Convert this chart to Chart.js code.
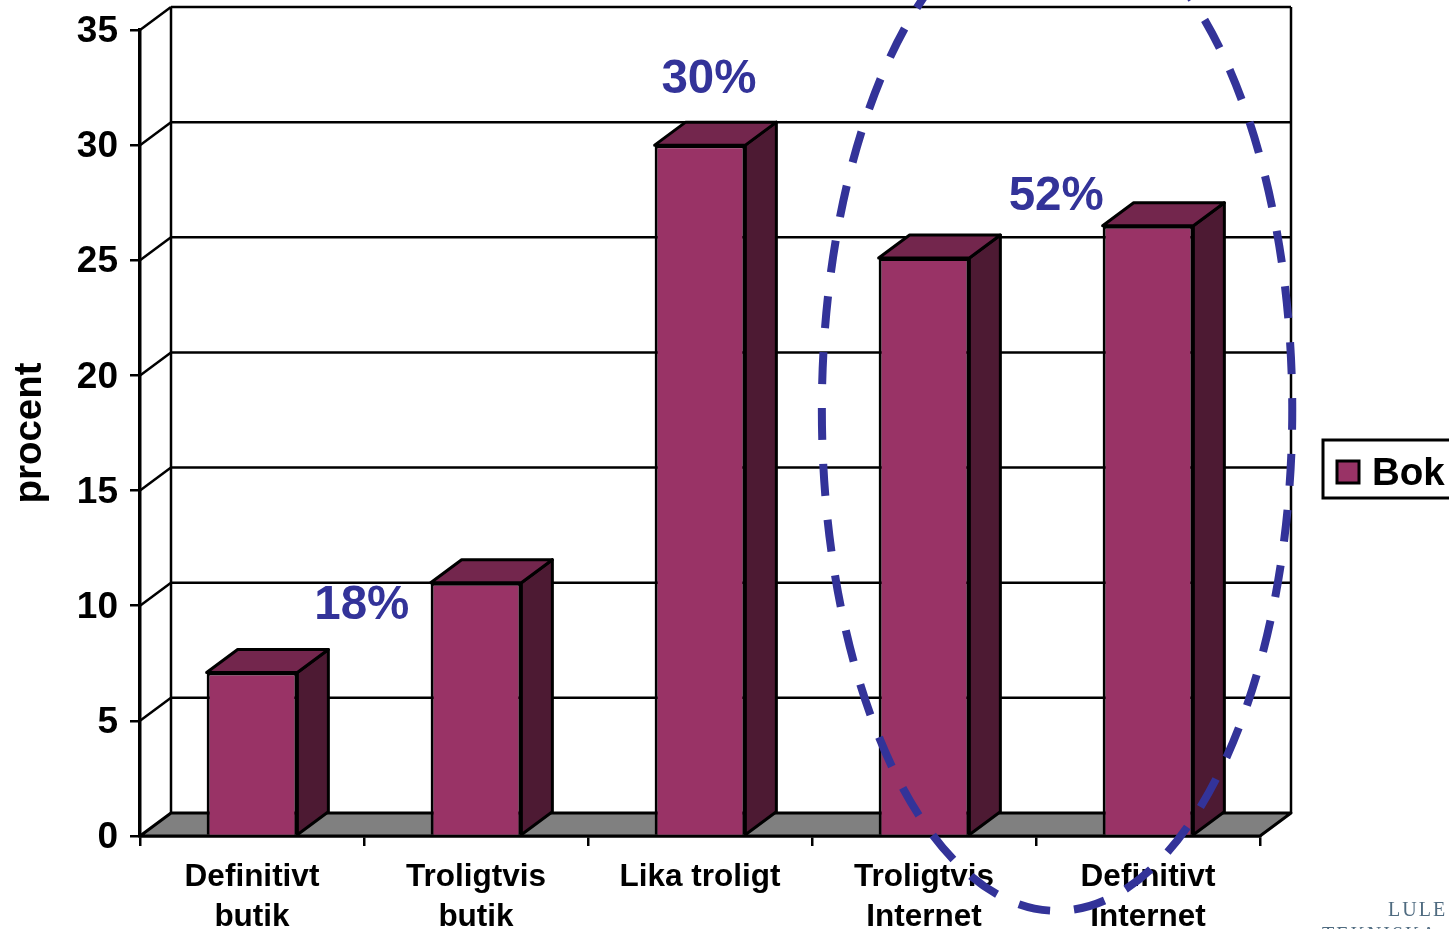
<!DOCTYPE html>
<html>
<head>
<meta charset="utf-8">
<title>Bok</title>
<script src="https://cdn.jsdelivr.net/npm/chart.js@4"></script>
<style>
    html, body { margin: 0; padding: 0; background: #fff; overflow: hidden; }
    canvas { display: block; }
</style>
</head>
<body>
<canvas id="grafica" width="1449" height="929"></canvas>
<script>
const categorias = [['Definitivt', 'butik'], ['Troligtvis', 'butik'], 'Lika troligt', ['Troligtvis', 'Internet'], ['Definitivt', 'Internet']];
const valores = [7.1, 11, 30, 25.1, 26.5];
const marcasY = [0, 5, 10, 15, 20, 25, 30, 35];

// percentage callouts, placed in data units
const notasTexto = ['18%', '30%', '52%'];
const notasCategoria = [0.49, 2.04, 3.59];
const notasValor = [10.0, 32.83, 27.77];

// dashed ring round the two Internet bars, also in data units
const anilloCentro = [3.594, 18.5];
const anilloRadio = [1.05, 21.75];

const profundidadX = 31;
const profundidadY = -23;
const AZUL = '#333399';
const NEGRO = '#000';
const FUENTE = '"Liberation Sans", Arial, sans-serif';

function linea(ctx, x1, y1, x2, y2) {
    ctx.beginPath();
    ctx.moveTo(x1, y1);
    ctx.lineTo(x2, y2);
    ctx.stroke();
}

function cara(ctx, puntos, color) {
    ctx.beginPath();
    puntos.forEach((p, i) => i ? ctx.lineTo(p[0], p[1]) : ctx.moveTo(p[0], p[1]));
    ctx.closePath();
    ctx.fillStyle = color;
    ctx.fill();
    ctx.stroke();
}

// back wall, side wall and floor
const paredes = {
    id: 'paredes',
    beforeDatasetsDraw(chart) {
        const { ctx, chartArea: a, scales: { y } } = chart;
        const dx = profundidadX, dy = profundidadY;
        ctx.save();
        ctx.strokeStyle = NEGRO;
        ctx.lineJoin = 'round';
        ctx.lineWidth = 3;
        cara(ctx, [[a.left, a.bottom], [a.left + dx, a.bottom + dy], [a.right + dx, a.bottom + dy], [a.right, a.bottom]], '#808080');
        ctx.lineWidth = 2.5;
        linea(ctx, a.left + dx, a.bottom + dy, a.left + dx, a.top + dy);
        linea(ctx, a.right + dx, a.bottom + dy, a.right + dx, a.top + dy);
        marcasY.forEach(v => {
            const py = y.getPixelForValue(v);
            if (v > 0) linea(ctx, a.left, py, a.left + dx, py + dy);
            if (v > 0) linea(ctx, a.left + dx, py + dy, a.right + dx, py + dy);
        });
        ctx.restore();
    }
};

// top and side faces of each bar
const barras3d = {
    id: 'barras3d',
    afterDatasetsDraw(chart) {
        const { ctx } = chart;
        const dx = profundidadX, dy = profundidadY;
        ctx.save();
        ctx.strokeStyle = NEGRO;
        ctx.lineWidth = 3;
        ctx.lineJoin = 'round';
        chart.getDatasetMeta(0).data.forEach(b => {
            const izq = b.x - b.width / 2, der = b.x + b.width / 2;
            cara(ctx, [[der, b.y], [der + dx, b.y + dy], [der + dx, b.base + dy], [der, b.base]], '#4d1a33');
            cara(ctx, [[izq, b.y], [izq + dx, b.y + dy], [der + dx, b.y + dy], [der, b.y]], '#73264d');
        });
        ctx.restore();
    }
};

// callouts, legend box, ring and the corner wordmark
const extras = {
    id: 'extras',
    afterDraw(chart) {
        const { ctx, scales: { x, y } } = chart;
        ctx.save();

        ctx.font = 'bold 47.5px ' + FUENTE;
        ctx.fillStyle = AZUL;
        ctx.textAlign = 'center';
        ctx.textBaseline = 'middle';
        notasTexto.forEach((t, i) => {
            ctx.fillText(t, x.getPixelForValue(notasCategoria[i]), y.getPixelForValue(notasValor[i]));
        });

        ctx.strokeStyle = NEGRO;
        ctx.lineWidth = 3;
        ctx.strokeRect(1323, 440, 140, 58);
        ctx.fillStyle = '#993366';
        ctx.fillRect(1337, 461, 22, 22);
        ctx.strokeRect(1337, 461, 22, 22);
        ctx.fillStyle = NEGRO;
        ctx.textAlign = 'left';
        ctx.font = 'bold 38.5px ' + FUENTE;
        ctx.fillText('Bok', 1372, 474);

        // the path starts at the top of the ring so its seam stays off the canvas
        const cx = x.getPixelForValue(anilloCentro[0]);
        const cy = y.getPixelForValue(anilloCentro[1]);
        const rx = x.getPixelForValue(anilloCentro[0] + anilloRadio[0]) - cx;
        const ry = y.getPixelForValue(anilloCentro[1] - anilloRadio[1]) - cy;
        ctx.strokeStyle = AZUL;
        ctx.lineWidth = 8;
        ctx.setLineDash([32, 24]);
        ctx.lineDashOffset = -25;
        ctx.beginPath();
        ctx.ellipse(cx, cy, rx, ry, 0, -Math.PI / 2, Math.PI * 1.5);
        ctx.stroke();
        ctx.setLineDash([]);

        ctx.fillStyle = '#4f6b80';
        ctx.font = '20px "Liberation Serif", serif';
        ctx.letterSpacing = '2px';
        ctx.fillText('LULE', 1388, 911);
        ctx.fillText('TEKNISKA', 1322, 936);
        ctx.restore();
    }
};

new Chart(document.getElementById('grafica'), {
    type: 'bar',
    data: {
        labels: categorias,
        datasets: [{
            label: 'Bok',
            data: valores,
            backgroundColor: '#993366',
            borderColor: NEGRO,
            borderWidth: 3,
            barPercentage: 0.405,
            categoryPercentage: 1
        }]
    },
    options: {
        responsive: false,
        animation: false,
        layout: { padding: { top: 30, right: 189, left: 0, bottom: 0 } },
        plugins: { legend: { display: false }, tooltip: { enabled: false } },
        scales: {
            x: {
                afterFit: s => { s.height = 93; s.paddingLeft = 0; s.paddingRight = 0; },
                grid: { drawOnChartArea: false, tickLength: 10, lineWidth: 2.5, color: NEGRO },
                border: { color: NEGRO, width: 3.5 },
                ticks: {
                    color: NEGRO,
                    maxRotation: 0,
                    autoSkip: false,
                    padding: 11,
                    font: { family: FUENTE, size: 31.5, weight: 'bold', lineHeight: 1.27 }
                }
            },
            y: {
                min: 0,
                max: 35,
                afterFit: s => { s.width = 140; s.paddingTop = 0; s.paddingBottom = 0; },
                grid: { drawOnChartArea: false, tickLength: 10, lineWidth: 2.5, color: NEGRO },
                border: { color: NEGRO, width: 3.5 },
                afterBuildTicks: s => { s.ticks = marcasY.map(v => ({ value: v })); },
                ticks: {
                    color: NEGRO,
                    padding: 12,
                    labelOffset: 2,
                    font: { family: FUENTE, size: 37, weight: 'bold' }
                },
                title: {
                    display: true,
                    text: 'procent',
                    color: NEGRO,
                    padding: { top: 7, bottom: 0 },
                    font: { family: FUENTE, size: 38.5, weight: 'bold' }
                }
            }
        }
    },
    plugins: [paredes, barras3d, extras]
});
</script>
</body>
</html>
